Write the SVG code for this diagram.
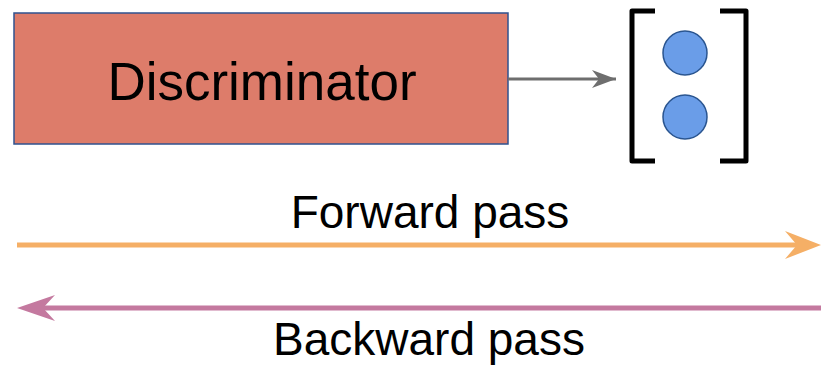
<svg xmlns="http://www.w3.org/2000/svg" width="821" height="366" viewBox="0 0 821 366">
<style>
  .lbl { font-family: "Liberation Sans", Arial, sans-serif; fill: #000; text-anchor: middle; }
  .node-box { fill: #dd7c6a; stroke: #2f528f; stroke-width: 1.5; }
  .dot { fill: #6a9de8; stroke: #2a5590; stroke-width: 1.5; }
  .bracket { fill: none; stroke: #000; stroke-width: 5; stroke-linejoin: round; }
</style>
<defs>
  <marker id="ahGrey" markerUnits="userSpaceOnUse" markerWidth="26" markerHeight="20" refX="25" refY="10" orient="auto">
    <path d="M1,1 L25,10 L1,19 L8,10 Z" fill="#6e6e6e"/>
  </marker>
</defs>
<rect width="821" height="366" fill="#fff"/>
<g id="discriminator">
  <rect class="node-box" x="14" y="13" width="494" height="131"/>
  <text class="lbl" x="262" y="100" font-size="53">Discriminator</text>
</g>
<g id="output-vector">
  <path class="bracket" d="M655,11 H632 V161 H655"/>
  <path class="bracket" d="M720,11 H746 V161 H720"/>
  <circle class="dot" cx="685" cy="53" r="22"/>
  <circle class="dot" cx="685" cy="117" r="22"/>
</g>
<g id="forward-pass">
  <text class="lbl" x="430" y="228" font-size="46">Forward pass</text>
</g>
<g id="backward-pass">
  <text class="lbl" x="429" y="355" font-size="46">Backward pass</text>
</g>
<g id="connectors">
  <line x1="508" y1="79" x2="616" y2="79" stroke="#6e6e6e" stroke-width="3" marker-end="url(#ahGrey)"/>
  <line x1="17" y1="245" x2="800" y2="245" stroke="#f5af66" stroke-width="5"/>
  <path d="M821,245 L785,231 L797,245 L785,259 Z" fill="#f5af66"/>
  <line x1="40" y1="308" x2="821" y2="308" stroke="#c4799f" stroke-width="5"/>
  <path d="M17,308 L55,295 L43,308 L55,321 Z" fill="#c4799f"/>
</g>
</svg>
